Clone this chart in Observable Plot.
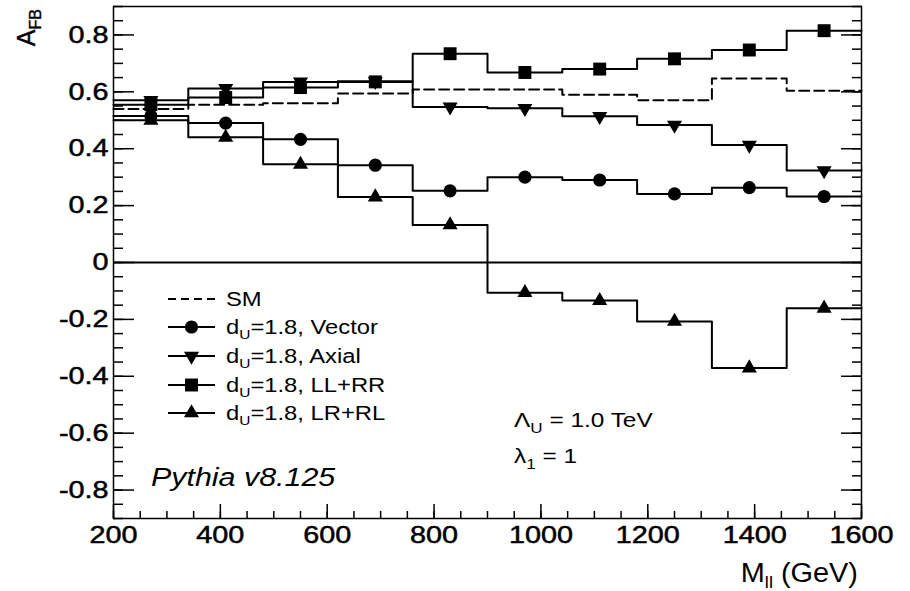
<!DOCTYPE html>
<html>
<head>
<meta charset="utf-8">
<script src="https://cdn.jsdelivr.net/npm/d3@7"></script>
<script src="https://cdn.jsdelivr.net/npm/@observablehq/plot@0.6"></script>
<style>
html, body { margin: 0; padding: 0; background: #fff; }
#chart svg { display: block; }
</style>
</head>
<body>
<div id="chart"></div>
<script>
// ---- data ----
const binEdges = [200, 340, 480, 620, 760, 900, 1040, 1180, 1320, 1460, 1600];
const smValues     = [0.540, 0.555, 0.560, 0.594, 0.608, 0.608, 0.590, 0.570, 0.647, 0.604];
const vectorValues = [0.515, 0.490, 0.433, 0.342, 0.252, 0.300, 0.290, 0.241, 0.263, 0.232];
const axialValues  = [0.570, 0.612, 0.635, 0.637, 0.547, 0.542, 0.514, 0.483, 0.413, 0.323];
const llrrValues   = [0.555, 0.580, 0.615, 0.635, 0.734, 0.668, 0.680, 0.716, 0.747, 0.815];
const lrrlValues   = [0.500, 0.440, 0.345, 0.230, 0.132, -0.106, -0.134, -0.207, -0.371, -0.161];

const xTicks = [200, 400, 600, 800, 1000, 1200, 1400, 1600];
const xMinorTicks = d3.range(200, 1601, 50);
const yTicks = [-0.8, -0.6, -0.4, -0.2, 0, 0.2, 0.4, 0.6, 0.8];
const yMinorTicks = d3.range(-0.9, 0.9001, 0.05);

const legendLabels = ["SM", "Vector", "Axial", "LL+RR", "LR+RL"];
const legendPrefix = "d";
const legendSub = "U";
const legendValue = "=1.8, ";

// ---- helpers to build tables from the arrays ----
function histRows(values) {
  const rows = values.map((v, i) => ({x: binEdges[i], y: v}));
  rows.push({x: binEdges[values.length], y: values[values.length - 1]});
  return rows;
}
function pointRows(values) {
  return values.map((v, i) => ({x: (binEdges[i] + binEdges[i + 1]) / 2, y: v}));
}

const symbolTriangleDown = {
  draw(context, size) {
    const y = -Math.sqrt(size / (Math.sqrt(3) * 3));
    context.moveTo(0, -y * 2);
    context.lineTo(-Math.sqrt(3) * y, y);
    context.lineTo(Math.sqrt(3) * y, y);
    context.closePath();
  }
};

const FONT = "'Liberation Sans', Arial, Helvetica, sans-serif";
const lineW = 2;
const blank = () => "";

const chart = Plot.plot({
  width: 910,
  height: 591,
  marginLeft: 113,
  marginRight: 49,
  marginTop: 6,
  marginBottom: 73,
  x: {domain: [200, 1600]},
  y: {domain: [-0.9, 0.9]},
  style: {fontFamily: FONT, background: "#fff", color: "#000"},
  marks: [
    Plot.ruleY([0], {stroke: "#000", strokeWidth: 2}),
    Plot.line(histRows(smValues), {x: "x", y: "y", curve: "step-after", stroke: "#000", strokeWidth: lineW, strokeDasharray: "10,5"}),
    Plot.line(histRows(vectorValues), {x: "x", y: "y", curve: "step-after", stroke: "#000", strokeWidth: lineW}),
    Plot.line(histRows(axialValues), {x: "x", y: "y", curve: "step-after", stroke: "#000", strokeWidth: lineW}),
    Plot.line(histRows(llrrValues), {x: "x", y: "y", curve: "step-after", stroke: "#000", strokeWidth: lineW}),
    Plot.line(histRows(lrrlValues), {x: "x", y: "y", curve: "step-after", stroke: "#000", strokeWidth: lineW}),
    Plot.dot(pointRows(vectorValues), {x: "x", y: "y", symbol: "circle", r: 6.6, fill: "#000"}),
    Plot.dot(pointRows(axialValues), {x: "x", y: "y", symbol: symbolTriangleDown, r: 5.6, fill: "#000"}),
    Plot.dot(pointRows(llrrValues), {x: "x", y: "y", symbol: "square", r: 7.3, fill: "#000"}),
    Plot.dot(pointRows(lrrlValues), {x: "x", y: "y", symbol: "triangle", r: 5.6, fill: "#000"}),
    Plot.frame({stroke: "#000", strokeWidth: 1.5}),
    // x axis: labels + inward ticks
    Plot.axisX(xTicks, {anchor: "bottom", tickSize: 0, tickPadding: 7, fontSize: 24, label: null, tickFormat: d => String(d)}),
    Plot.axisX(xTicks, {anchor: "bottom", tickSize: 14, dy: -14, strokeWidth: 1.5, label: null, tickFormat: blank}),
    Plot.axisX(xMinorTicks, {anchor: "bottom", tickSize: 7, dy: -7, strokeWidth: 1.5, label: null, tickFormat: blank}),
    // y axis left: labels + inward ticks
    Plot.axisY(yTicks, {anchor: "left", tickSize: 0, tickPadding: 5, fontSize: 24, label: null, tickFormat: d => d === 0 ? "0" : d.toFixed(1)}),
    Plot.axisY(yTicks, {anchor: "left", tickSize: 21, dx: 21, strokeWidth: 1.5, label: null, tickFormat: blank}),
    Plot.axisY(yMinorTicks, {anchor: "left", tickSize: 10, dx: 10, strokeWidth: 1.5, label: null, tickFormat: blank}),
    // y axis right: inward ticks only
    Plot.axisY(yTicks, {anchor: "right", tickSize: 21, dx: -21, strokeWidth: 1.5, label: null, tickFormat: blank}),
    Plot.axisY(yMinorTicks, {anchor: "right", tickSize: 10, dx: -10, strokeWidth: 1.5, label: null, tickFormat: blank})
  ]
});

document.getElementById("chart").appendChild(chart);

const svg = d3.select(chart);

// widen / thicken the tick-label glyphs like the reference (Helvetica rendering)
svg.selectAll('g[aria-label="x-axis tick label"] text, g[aria-label="y-axis tick label"] text').each(function () {
  const t = this.getAttribute("transform");
  if (t) this.setAttribute("transform", t + " scale(1.2,1)");
  this.setAttribute("stroke", "#000");
  this.setAttribute("stroke-width", 0.5);
});

// ---- axis titles ----
const yTitle = svg.append("text")
  .attr("transform", "translate(35,9) rotate(-90)")
  .attr("text-anchor", "end")
  .attr("font-family", FONT)
  .attr("font-size", 25)
  .attr("stroke", "#000").attr("stroke-width", 0.4)
  .attr("fill", "#000");
yTitle.append("tspan").text("A");
yTitle.append("tspan").attr("dy", 6).attr("font-size", 16).text("FB");

const xTitle = svg.append("text")
  .attr("transform", "translate(858,582) scale(1.07,1)")
  .attr("text-anchor", "end")
  .attr("font-family", FONT)
  .attr("font-size", 27)
  .attr("fill", "#000");
xTitle.append("tspan").text("M");
xTitle.append("tspan").attr("dy", 6).attr("font-size", 17).text("ll");
xTitle.append("tspan").attr("dy", -6).text(" (GeV)");

// ---- legend ----
const legend = svg.append("g").attr("font-family", FONT).attr("font-size", 20).attr("fill", "#000").attr("text-anchor", "start");
const legendY = [299, 327, 356, 385, 413];
const legendSymbols = [null, d3.symbolCircle, symbolTriangleDown, d3.symbolSquare, d3.symbolTriangle];
const legendSizes = [0, Math.PI * 6.6 * 6.6, Math.PI * 5.6 * 5.6, Math.PI * 7.3 * 7.3, Math.PI * 5.6 * 5.6];
legendLabels.forEach((lab, i) => {
  const y = legendY[i];
  legend.append("line")
    .attr("x1", 168).attr("x2", 215).attr("y1", y).attr("y2", y)
    .attr("stroke", "#000").attr("stroke-width", 2)
    .attr("stroke-dasharray", i === 0 ? "8,5" : null);
  if (legendSymbols[i]) {
    legend.append("path")
      .attr("transform", `translate(191.5,${y})`)
      .attr("d", d3.symbol(legendSymbols[i], legendSizes[i])())
      .attr("fill", "#000");
  }
  const t = legend.append("text")
    .attr("text-anchor", "start")
    .attr("transform", `translate(226,${y + 7}) scale(1.19,1)`);
  if (i === 0) {
    t.text(lab);
  } else {
    t.append("tspan").text(legendPrefix);
    t.append("tspan").attr("dy", 5).attr("font-size", 13).text(legendSub);
    t.append("tspan").attr("dy", -5).text(legendValue + lab);
  }
});

// ---- annotations ----
const ann = svg.append("g").attr("font-family", FONT).attr("fill", "#000").attr("text-anchor", "start");
const a1 = ann.append("text").attr("text-anchor", "start").attr("transform", "translate(514,427) scale(1.22,1)").attr("font-size", 20);
a1.append("tspan").text("\u039B");
a1.append("tspan").attr("dy", 6).attr("font-size", 14).text("U");
a1.append("tspan").attr("dy", -6).text(" = 1.0 TeV");
const a2 = ann.append("text").attr("text-anchor", "start").attr("transform", "translate(514,463) scale(1.22,1)").attr("font-size", 20);
a2.append("tspan").text("\u03BB");
a2.append("tspan").attr("dy", 6).attr("font-size", 14).text("1");
a2.append("tspan").attr("dy", -6).text(" = 1");

ann.append("text")
  .attr("text-anchor", "start")
  .attr("transform", "translate(151,486) scale(1.17,1)")
  .attr("font-size", 26)
  .attr("font-style", "italic")
  .text("Pythia v8.125");
</script>
</body>
</html>
